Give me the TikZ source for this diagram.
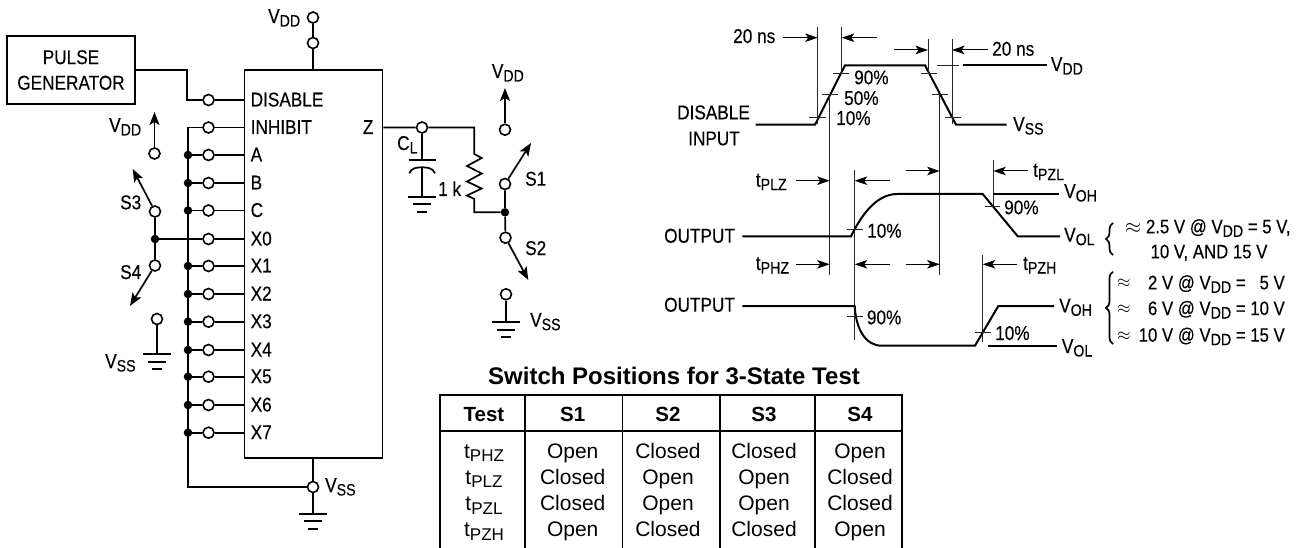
\documentclass[tikz,border=0pt]{standalone}
\usepackage{fontspec}
\setmainfont[FakeStretch=0.86,FakeBold=0.25]{Liberation Sans}
\newfontfamily\tablefont{Liberation Sans}
\usetikzlibrary{arrows.meta,decorations.pathreplacing}
\newcommand{\lowtxt}[1]{\raisebox{-3.5pt}{\fontsize{16.5}{16.5}\selectfont #1}}
\newcommand{\tablow}[1]{\raisebox{-3.5pt}{\fontsize{17}{17}\selectfont #1}}
\tikzset{
  wire/.style={line width=1.7pt},
  thinline/.style={line width=1pt,black!85},
  wave/.style={line width=2pt},
  term/.style={circle,draw,fill=white,line width=1.6pt,inner sep=0pt,minimum size=11pt},
  jdot/.style={circle,fill=black,inner sep=0pt,minimum size=8.5pt},
  lbl/.style={inner sep=0pt,anchor=base west,font=\fontsize{20}{25}\selectfont},
  brtext/.style={lbl,font=\fontsize{19.5}{25}\selectfont},
  swarrow/.style={line width=1.7pt,-{Stealth[length=13pt,width=10pt,inset=3pt]}},
  timearrow/.style={line width=1pt,-{Stealth[length=12.5pt,width=8.5pt,inset=3pt]}},
  tabline/.style={line width=1.6pt},
  cell/.style={inner sep=0pt,anchor=base,font=\tablefont\fontsize{21}{25}\selectfont},
  headcell/.style={inner sep=0pt,anchor=base,font=\tablefont\bfseries\fontsize{20.5}{25}\selectfont},
  gnd/.pic={
    \draw[line width=1.7pt] (-14,0) -- (14,0);
    \draw[line width=1.7pt] (-9,7.5) -- (9,7.5);
    \draw[line width=1.7pt] (-5,15) -- (5,15);
  }
}
\begin{document}
\begin{tikzpicture}[x=1pt,y=-1pt]
  \useasboundingbox (0,0) rectangle (1304,548);
  % test circuit
  \node[draw,wire,align=center,inner sep=0pt,minimum width=128pt,minimum height=68pt,
    font=\fontsize{20}{25.6}\selectfont] (pulse) at (71,70) {PULSE\\GENERATOR};
  \node[draw,wire,inner sep=0pt,minimum width=138pt,minimum height=388pt] (ic) at (313.5,264) {};
  \node[term] (vddT) at (313,17.5) {};
  \node[term] (vddB) at (313,43) {};
  \node[term] (pinDis) at (208.5,100) {};
  \node[term] (pinInh) at (208.5,127.5) {};
  \node[term] (pinA) at (208.5,155) {};
  \node[term] (pinB) at (208.5,183) {};
  \node[term] (pinC) at (208.5,210.5) {};
  \node[term] (pinXa) at (208.5,239) {};
  \node[term] (pinXb) at (208.5,266) {};
  \node[term] (pinXc) at (208.5,294) {};
  \node[term] (pinXd) at (208.5,321.7) {};
  \node[term] (pinXe) at (208.5,350) {};
  \node[term] (pinXf) at (208.5,376.7) {};
  \node[term] (pinXg) at (208.5,405) {};
  \node[term] (pinXh) at (208.5,432.7) {};
  \node[term] (pinVss) at (313,487) {};
  \node[term] (pinZ) at (422,127.5) {};
  \node[jdot] (dotA) at (188,155) {};
  \node[jdot] (dotB) at (188,183) {};
  \node[jdot] (dotC) at (188,210.5) {};
  \node[jdot] (dotXb) at (188,266) {};
  \node[jdot] (dotXc) at (188,294) {};
  \node[jdot] (dotXd) at (188,321.7) {};
  \node[jdot] (dotXe) at (188,350) {};
  \node[jdot] (dotXf) at (188,376.7) {};
  \node[jdot] (dotXg) at (188,405) {};
  \node[jdot] (dotXh) at (188,432.7) {};
  \node[jdot] (dotXa) at (155,239) {};
  \node[jdot] (dotR) at (505,212.3) {};
  \node[term] (swDdL) at (154.5,153.5) {};
  \node[term] (swThree) at (155,211.5) {};
  \node[term] (swFour) at (155,265.5) {};
  \node[term] (swSsL) at (157,319) {};
  \node[term] (swDdR) at (505,129.7) {};
  \node[term] (swOne) at (505,184) {};
  \node[term] (swTwo) at (505.5,237.7) {};
  \node[term] (swSsR) at (506,294.3) {};
  \coordinate (pgBend) at (187,100);
  \coordinate (busT) at (188,127.5);
  \coordinate (busB) at (188,487);
  \coordinate (gndB) at (313,513.7);
  \coordinate (gndL) at (157,354.3);
  \coordinate (gndR) at (506,322.3);
  \coordinate (gndC) at (422,196.7);
  \coordinate (arrDdL) at (154.5,112);
  \coordinate (arrThree) at (132.7,169);
  \coordinate (arrFour) at (130,306);
  \coordinate (arrDdR) at (505,88);
  \coordinate (arrOne) at (531,143);
  \coordinate (arrTwo) at (528.3,280);
  \coordinate (capT) at (422,160);
  \coordinate (resT) at (474.3,127.5);
  \coordinate (resA) at (474.3,154);
  \coordinate (resB) at (474.3,199);
  \coordinate (resC) at (474.3,212.3);

  \draw[wire] (vddT) -- (vddB) -- (vddB |- ic.north);
  \draw[wire] (pulse.east) -| (pgBend) -- (pinDis) -- (pinDis -| ic.west);
  \draw[wire] (pinInh -| ic.west) -- (pinInh) -- (busT) -- (busB) -- (pinVss);
  \draw[wire] (ic.south -| pinVss) -- (pinVss) -- (gndB);
  \draw[wire] (dotA) -- (pinA) -- (pinA -| ic.west);
  \draw[wire] (dotB) -- (pinB) -- (pinB -| ic.west);
  \draw[wire] (dotC) -- (pinC) -- (pinC -| ic.west);
  \draw[wire] (dotXa) -- (pinXa) -- (pinXa -| ic.west);
  \draw[wire] (dotXb) -- (pinXb) -- (pinXb -| ic.west);
  \draw[wire] (dotXc) -- (pinXc) -- (pinXc -| ic.west);
  \draw[wire] (dotXd) -- (pinXd) -- (pinXd -| ic.west);
  \draw[wire] (dotXe) -- (pinXe) -- (pinXe -| ic.west);
  \draw[wire] (dotXf) -- (pinXf) -- (pinXf -| ic.west);
  \draw[wire] (dotXg) -- (pinXg) -- (pinXg -| ic.west);
  \draw[wire] (dotXh) -- (pinXh) -- (pinXh -| ic.west);
  \draw[wire] (swThree) -- (dotXa) -- (swFour);
  \draw[swarrow] (swDdL) -- (arrDdL);
  \draw[swarrow] (swThree) -- (arrThree);
  \draw[swarrow] (swFour) -- (arrFour);
  \draw[wire] (swSsL) -- (gndL);
  \draw[wire] (pinZ -| ic.east) -- (pinZ) -- (resT) -- (resA)
    -- ++(7.4,4) -- ++(-14.7,8) -- ++(14.7,7.5) -- ++(-14.7,8) -- ++(14.7,7) -- ++(-14.7,7) -- (resB)
    -- (resC) -- (dotR);
  \draw[wire] (pinZ) -- (capT);
  \draw[wire] ([xshift=-13.5pt]capT) -- ([xshift=13.5pt]capT);
  \draw[wire] (409.3,173.3) .. controls (411,168) and (417,167.3) .. (422,167.3)
    .. controls (427,167.3) and (433,168) .. (435,173.3);
  \draw[wire] (422,167.3) -- (gndC);
  \draw[swarrow] (swDdR) -- (arrDdR);
  \draw[swarrow] (swOne) -- (arrOne);
  \draw[swarrow] (swTwo) -- (arrTwo);
  \draw[wire] (swOne) -- (dotR) -- (swTwo);
  \draw[wire] (swSsR) -- (gndR);
  \pic at (gndB) {gnd};
  \pic at (gndL) {gnd};
  \pic at (gndR) {gnd};
  \pic at (gndC) {gnd};

  \node[lbl] (lDis) at (250.5,106.5) {DISABLE};
  \node[lbl] (lInh) at (250.5,134) {INHIBIT};
  \node[lbl] (lA) at (250.5,161.5) {A};
  \node[lbl] (lB) at (250.5,189.5) {B};
  \node[lbl] (lC) at (250.5,217) {C};
  \node[lbl] (lXa) at (250.5,245.5) {X0};
  \node[lbl] (lXb) at (250.5,272.5) {X1};
  \node[lbl] (lXc) at (250.5,300.5) {X2};
  \node[lbl] (lXd) at (250.5,328.2) {X3};
  \node[lbl] (lXe) at (250.5,356.5) {X4};
  \node[lbl] (lXf) at (250.5,383.2) {X5};
  \node[lbl] (lXg) at (250.5,411.5) {X6};
  \node[lbl] (lXh) at (250.5,439.2) {X7};
  \node[lbl] (lZ) at (362.7,134) {Z};
  \node[lbl] (lVddT) at (268,23) {V\lowtxt{DD}};
  \node[lbl] (lVddL) at (109,132) {V\lowtxt{DD}};
  \node[lbl] (lVddR) at (491.7,78) {V\lowtxt{DD}};
  \node[lbl] (lVssL) at (105,368) {V\lowtxt{SS}};
  \node[lbl] (lVssB) at (325,492) {V\lowtxt{SS}};
  \node[lbl] (lVssR) at (530,326.7) {V\lowtxt{SS}};
  \node[lbl] (lThree) at (120,209.3) {S3};
  \node[lbl] (lFour) at (120,279) {S4};
  \node[lbl] (lOne) at (525,185.7) {S1};
  \node[lbl] (lTwo) at (525,255) {S2};
  \node[lbl] (lCap) at (397,150) {C\lowtxt{L}};
  \node[lbl] (lRes) at (438,196) {1 k};

  % timing
  \draw[wave] (755.7,124.7) -- (815,124.7) -- (845,65.3) -- (925,65.3) -- (956,124.7) -- (1006.7,124.7);
  \draw[wave] (963.3,65.3) -- (1046.7,65.3);
  \draw[thinline] (936.7,65.3) -- (959.3,65.3);
  \draw[thinline] (833,74) -- (849,74);
  \draw[thinline] (822,95) -- (838,95);
  \draw[thinline] (809,118) -- (826,118);
  \draw[thinline] (920.7,74) -- (936.7,74);
  \draw[thinline] (932,95) -- (948,95);
  \draw[thinline] (945,118) -- (961,118);
  \draw[thinline] (817.7,27) -- (817.7,124);
  \draw[thinline] (841.7,27) -- (841.7,74);
  \draw[thinline] (829.7,95) -- (829.7,275);
  \draw[thinline] (928,39) -- (928,74);
  \draw[thinline] (952,39) -- (952,124);
  \draw[thinline] (939.7,95) -- (939.7,275);
  \draw[thinline] (854.7,170) -- (854.7,340);
  \draw[thinline] (993.3,160) -- (993.3,206.7);
  \draw[thinline] (982.7,255) -- (982.7,342);
  \draw[timearrow] (783,37.7) -- (817.7,37.7);
  \draw[timearrow] (876.7,37.7) -- (841.7,37.7);
  \draw[timearrow] (894,50) -- (928,50);
  \draw[timearrow] (988,50) -- (952,50);
  \draw[timearrow] (795.7,180.7) -- (829.7,180.7);
  \draw[timearrow] (890,180.7) -- (854.7,180.7);
  \draw[timearrow] (905.7,171) -- (939.7,171);
  \draw[timearrow] (1028,171) -- (993.3,171);
  \draw[timearrow] (795.7,264.3) -- (829.7,264.3);
  \draw[timearrow] (890,264.3) -- (854.7,264.3);
  \draw[timearrow] (905.7,264.3) -- (939.7,264.3);
  \draw[timearrow] (1016.7,264.3) -- (982.7,264.3);
  \draw[wave] (742.3,236.3) -- (851,236.3) .. controls (860,218) and (875,194) .. (897.3,194)
    -- (982.7,194) -- (1017.7,236.3) -- (1060,236.3);
  \draw[wave] (993.3,194) -- (1059,194);
  \draw[thinline] (847,229.3) -- (862.7,229.3);
  \draw[thinline] (985,206.7) -- (1000,206.7);
  \draw[wave] (742.3,306) -- (854.7,306) .. controls (856,330) and (866,345.7) .. (881.7,345.7)
    -- (975,345.7) -- (998.3,306) -- (1054,306);
  \draw[wave] (987.7,345.7) -- (1056.7,345.7);
  \draw[thinline] (847,316.7) -- (862.7,316.7);
  \draw[thinline] (975,332.7) -- (990.7,332.7);

  \node[lbl] (tNsA) at (733,43) {20 ns};
  \node[lbl] (tNsB) at (992,55.7) {20 ns};
  \node[lbl] (tNine) at (854,84.3) {90\%};
  \node[lbl] (tFive) at (844,105) {50\%};
  \node[lbl] (tTen) at (836,125) {10\%};
  \node[lbl] (tVdd) at (1050.7,71) {V\lowtxt{DD}};
  \node[lbl] (tVss) at (1013,131) {V\lowtxt{SS}};
  \node[lbl] (tDis) at (677,119.3) {DISABLE};
  \node[lbl] (tInp) at (688,145.3) {INPUT};
  \node[lbl] (tPlz) at (755.7,186.7) {t\lowtxt{PLZ}};
  \node[lbl] (tPzl) at (1033,176.7) {t\lowtxt{PZL}};
  \node[lbl] (tPhz) at (755.7,270) {t\lowtxt{PHZ}};
  \node[lbl] (tPzh) at (1023,270) {t\lowtxt{PZH}};
  \node[lbl] (tOutA) at (664,242.7) {OUTPUT};
  \node[lbl] (tOutB) at (664,311.7) {OUTPUT};
  \node[lbl] (tTenA) at (867,237.7) {10\%};
  \node[lbl] (tNineA) at (1004,214.3) {90\%};
  \node[lbl] (tNineB) at (866.7,324.3) {90\%};
  \node[lbl] (tTenB) at (995,340) {10\%};
  \node[lbl] (tVohA) at (1064,198) {V\lowtxt{OH}};
  \node[lbl] (tVolA) at (1064,241.7) {V\lowtxt{OL}};
  \node[lbl] (tVohB) at (1059,312.3) {V\lowtxt{OH}};
  \node[lbl] (tVolB) at (1061.7,353) {V\lowtxt{OL}};

  \coordinate (brA) at (1113,255);
  \coordinate (brB) at (1113,223);
  \coordinate (brC) at (1113,344);
  \coordinate (brD) at (1113,271.7);
  \draw[wire,decoration={brace,amplitude=7pt},decorate] (brA) -- (brB);
  \draw[wire,decoration={brace,amplitude=7pt},decorate] (brC) -- (brD);
  \node[brtext] (nA) at (1125,233.3) {$\approx$ 2.5 V @ V\lowtxt{DD} = 5 V,};
  \node[brtext,anchor=base] (nB) at (1209,258.3) {10 V, AND 15 V};
  \node[brtext,font=\fontsize{16}{20}\selectfont] (nApC) at (1117,287.5) {$\approx$};
  \node[brtext,font=\fontsize{16}{20}\selectfont] (nApD) at (1117,313.5) {$\approx$};
  \node[brtext,font=\fontsize{16}{20}\selectfont] (nApE) at (1117,340) {$\approx$};
  \node[brtext,anchor=base east] (nC) at (1285,289.3) {2 V @ V\lowtxt{DD} = \phantom{1}5 V};
  \node[brtext,anchor=base east] (nD) at (1285,315) {6 V @ V\lowtxt{DD} = 10 V};
  \node[brtext,anchor=base east] (nE) at (1285,341.7) {10 V @ V\lowtxt{DD} = 15 V};

  % table
  \node[headcell,font=\tablefont\bfseries\fontsize{24}{28}\selectfont] (title) at (674,384.3) {Switch Positions for 3-State Test};
  \draw[tabline] (440,548) -- (440,395) -- (901.7,395) -- (901.7,548);
  \draw[tabline] (440,430.7) -- (901.7,430.7);
  \draw[tabline] (525,395) -- (525,548);
  \draw[tabline] (622.3,395) -- (622.3,548);
  \draw[tabline] (720,395) -- (720,548);
  \draw[tabline] (815,395) -- (815,548);
  \node[headcell] (hTest) at (484,421) {Test};
  \node[headcell] (hOne) at (572.7,421) {S1};
  \node[headcell] (hTwo) at (668,421) {S2};
  \node[headcell] (hThree) at (764,421) {S3};
  \node[headcell] (hFour) at (860,421) {S4};
  \node[cell] (cTa) at (484,458.3) {t\tablow{PHZ}};
  \node[cell] (cTb) at (484,484) {t\tablow{PLZ}};
  \node[cell] (cTc) at (484,510.7) {t\tablow{PZL}};
  \node[cell] (cTd) at (484,536.7) {t\tablow{PZH}};
  \node[cell] (cOa) at (572.7,458.3) {Open};
  \node[cell] (cOb) at (572.7,484) {Closed};
  \node[cell] (cOc) at (572.7,510.7) {Closed};
  \node[cell] (cOd) at (572.7,536.7) {Open};
  \node[cell] (cSa) at (668,458.3) {Closed};
  \node[cell] (cSb) at (668,484) {Open};
  \node[cell] (cSc) at (668,510.7) {Open};
  \node[cell] (cSd) at (668,536.7) {Closed};
  \node[cell] (cHa) at (764,458.3) {Closed};
  \node[cell] (cHb) at (764,484) {Open};
  \node[cell] (cHc) at (764,510.7) {Open};
  \node[cell] (cHd) at (764,536.7) {Closed};
  \node[cell] (cFa) at (860,458.3) {Open};
  \node[cell] (cFb) at (860,484) {Closed};
  \node[cell] (cFc) at (860,510.7) {Closed};
  \node[cell] (cFd) at (860,536.7) {Open};
\end{tikzpicture}
\end{document}
